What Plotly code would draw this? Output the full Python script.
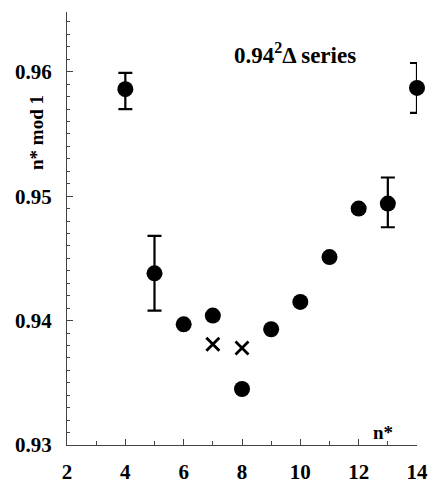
import plotly.graph_objects as go

# data
n_err = [4, 5, 13, 14]
v_err = [0.9586, 0.9438, 0.9494, 0.9587]
err_plus = [0.0013, 0.0030, 0.0021, 0.0020]
err_minus = [0.0016, 0.0030, 0.0019, 0.0020]

n_pts = [6, 7, 8, 9, 10, 11, 12]
v_pts = [0.9397, 0.9404, 0.9345, 0.9393, 0.9415, 0.9451, 0.9490]

n_x = [7, 8]
v_x = [0.9381, 0.9378]

x_ticks = [2, 4, 6, 8, 10, 12, 14]
y_ticks = [0.93, 0.94, 0.95, 0.96]
y_labels = ["0.93", "0.94", "0.95", "0.96"]

FONT = "Liberation Serif"

fig = go.Figure()
fig.add_trace(go.Scatter(
    x=n_err, y=v_err, mode="markers", cliponaxis=False,
    marker=dict(symbol="circle", size=16, color="black"),
    error_y=dict(type="data", array=err_plus, arrayminus=err_minus,
                 color="black", thickness=2.2, width=7),
    showlegend=False))
fig.add_trace(go.Scatter(
    x=n_pts, y=v_pts, mode="markers", cliponaxis=False,
    marker=dict(symbol="circle", size=16, color="black"),
    showlegend=False))
fig.add_trace(go.Scatter(
    x=n_x, y=v_x, mode="markers", cliponaxis=False,
    marker=dict(symbol="x-thin", size=13, color="black",
                line=dict(width=2.8, color="black")),
    showlegend=False))

W, H = 428, 486
l, r, t, b = 67, 11, 12, 41
pw, ph = W - l - r, H - t - b

def px(x):
    return (x - l) / pw

def py(y):
    return 1 - (y - t) / ph

ann_common = dict(xref="paper", yref="paper", showarrow=False,
                  xanchor="center", yanchor="middle")

fig.update_layout(
    width=W, height=H,
    margin=dict(l=l, r=r, t=t, b=b, autoexpand=False),
    paper_bgcolor="white", plot_bgcolor="white",
    font=dict(family=FONT, color="black"),
    xaxis=dict(range=[2, 14], tickvals=x_ticks, ticks="inside", ticklen=6,
               tickwidth=1, tickcolor="#444", showline=True, linecolor="#444",
               linewidth=1, showgrid=False, zeroline=False, automargin=False,
               tickfont=dict(family=FONT, size=21, weight="bold"),
               ticklabelstandoff=8,
               minor=dict(dtick=1, ticks="inside", ticklen=4, tickcolor="#444")),
    yaxis=dict(range=[0.93, 0.9648], tickvals=y_ticks, ticktext=y_labels,
               ticks="inside", ticklen=6, tickwidth=1, tickcolor="#444",
               showline=True, linecolor="#444", linewidth=1, showgrid=False,
               zeroline=False, automargin=False,
               tickfont=dict(family=FONT, size=21, weight="bold"),
               ticklabelstandoff=10,
               minor=dict(dtick=0.001, tick0=0.93, ticks="inside", ticklen=3,
                          tickcolor="#444")),
    annotations=[
        dict(text="0.94<sup>2</sup>Δ series", x=px(295), y=py(53),
             font=dict(family=FONT, size=23, weight="bold"), **ann_common),
        dict(text="n* mod 1", x=px(37), y=py(133), textangle=-90,
             font=dict(family=FONT, size=19, weight="bold"), **ann_common),
        dict(text="n*", x=px(383), y=py(432),
             font=dict(family=FONT, size=19, weight="bold"), **ann_common),
    ],
)

fig.write_html("out.html")
